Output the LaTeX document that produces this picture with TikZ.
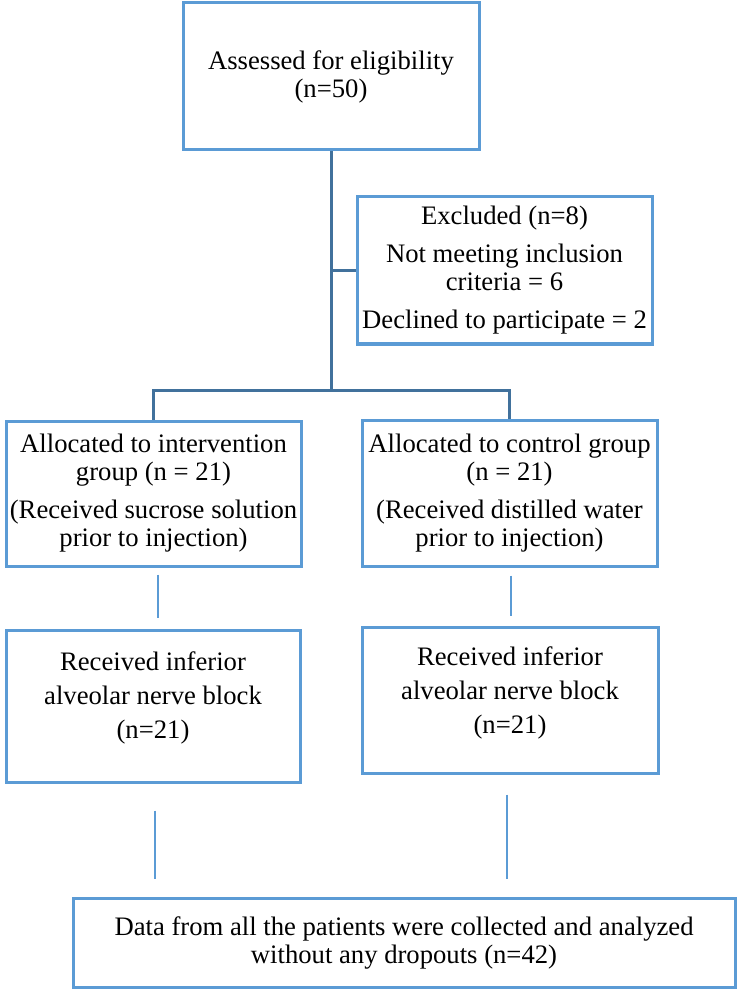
\documentclass[tikz,border=0pt]{standalone}
\usepackage{fontspec}
\setmainfont{Liberation Serif}
\usepackage{tikz}

\definecolor{boxblue}{RGB}{91,155,213}
\definecolor{linkblue}{RGB}{65,113,156}

\begin{document}
\begin{tikzpicture}[x=0.75pt, y=-0.75pt,
  box/.style={draw=boxblue, line width=2.25pt, align=center, inner sep=0pt,
    font=\fontsize{20}{21}\selectfont},
  txt/.style={align=center, inner sep=0pt, font=\fontsize{20}{25.5}\selectfont},
  link/.style={draw=linkblue, line width=2.25pt},
  gap/.style={draw=boxblue, line width=1.5pt}]

% Canvas
\useasboundingbox (0,0) rectangle (740,994);

% Parameters
\def\bw{221.25pt} % side box width
\def\ps{7.5pt}    % space between text blocks

% Screening
\node[box, minimum width=222pt, minimum height=110.25pt] (assess) at (331,76.5)
  {Assessed for eligibility\\(n=50)};

% Excluded
\node[box, minimum width=\bw, minimum height=110.25pt] (excl) at (504.5,270.5)
  {Excluded (n=8)\\[\ps]Not meeting inclusion\\criteria = 6\\[\ps]Declined to participate = 2};

% Allocation
\node[box, minimum width=\bw, minimum height=108.75pt] (intv) at (153.5,493.5)
  {Allocated to intervention\\group (n = 21)\\[\ps](Received sucrose solution\\prior to injection)};
\node[box, minimum width=\bw, minimum height=109.5pt] (ctrl) at (509.5,493)
  {Allocated to control group\\(n = 21)\\[\ps](Received distilled water\\prior to injection)};

% Nerve block
\node[box, minimum width=220.5pt, minimum height=114pt,
  label={[txt, yshift=6.4pt]center:{Received inferior\\alveolar nerve block\\(n=21)}}]
  (blockL) at (153,706) {};
\node[box, minimum width=222pt, minimum height=109.5pt,
  label={[txt, yshift=5.6pt]center:{Received inferior\\alveolar nerve block\\(n=21)}}]
  (blockR) at (510,700) {};

% Analysis
\node[box, minimum width=496.5pt, minimum height=66.75pt] (data) at (404,942.5)
  {Data from all the patients were collected and analyzed\\without any dropouts (n=42)};

% Trunk and split
\path (assess.south) ++(0,239) coordinate (split);
\draw[link] (assess.south) -- (split);
\draw[link] (assess.south |- excl.west) -- (excl.west);
\draw[link] (intv.north) |- (split) -| (ctrl.north);

% Loose joins between rows
\path ([xshift=3.4pt]intv.south) coordinate (g1);
\path ([xshift=1.1pt]ctrl.south) coordinate (g2);
\path ([xshift=1.5pt]blockL.south) coordinate (g3);
\path ([xshift=-2.25pt]blockR.south) coordinate (g4);
\draw[gap, shorten <=5.25pt, shorten >=8.25pt] (g1) -- (g1 |- blockL.north);
\draw[gap, shorten <=6pt, shorten >=7.5pt] (g2) -- (g2 |- blockR.north);
\draw[gap, shorten <=20.25pt, shorten >=13.5pt] (g3) -- (g3 |- data.north);
\draw[gap, shorten <=15pt, shorten >=13.5pt] (g4) -- (g4 |- data.north);

\end{tikzpicture}
\end{document}
